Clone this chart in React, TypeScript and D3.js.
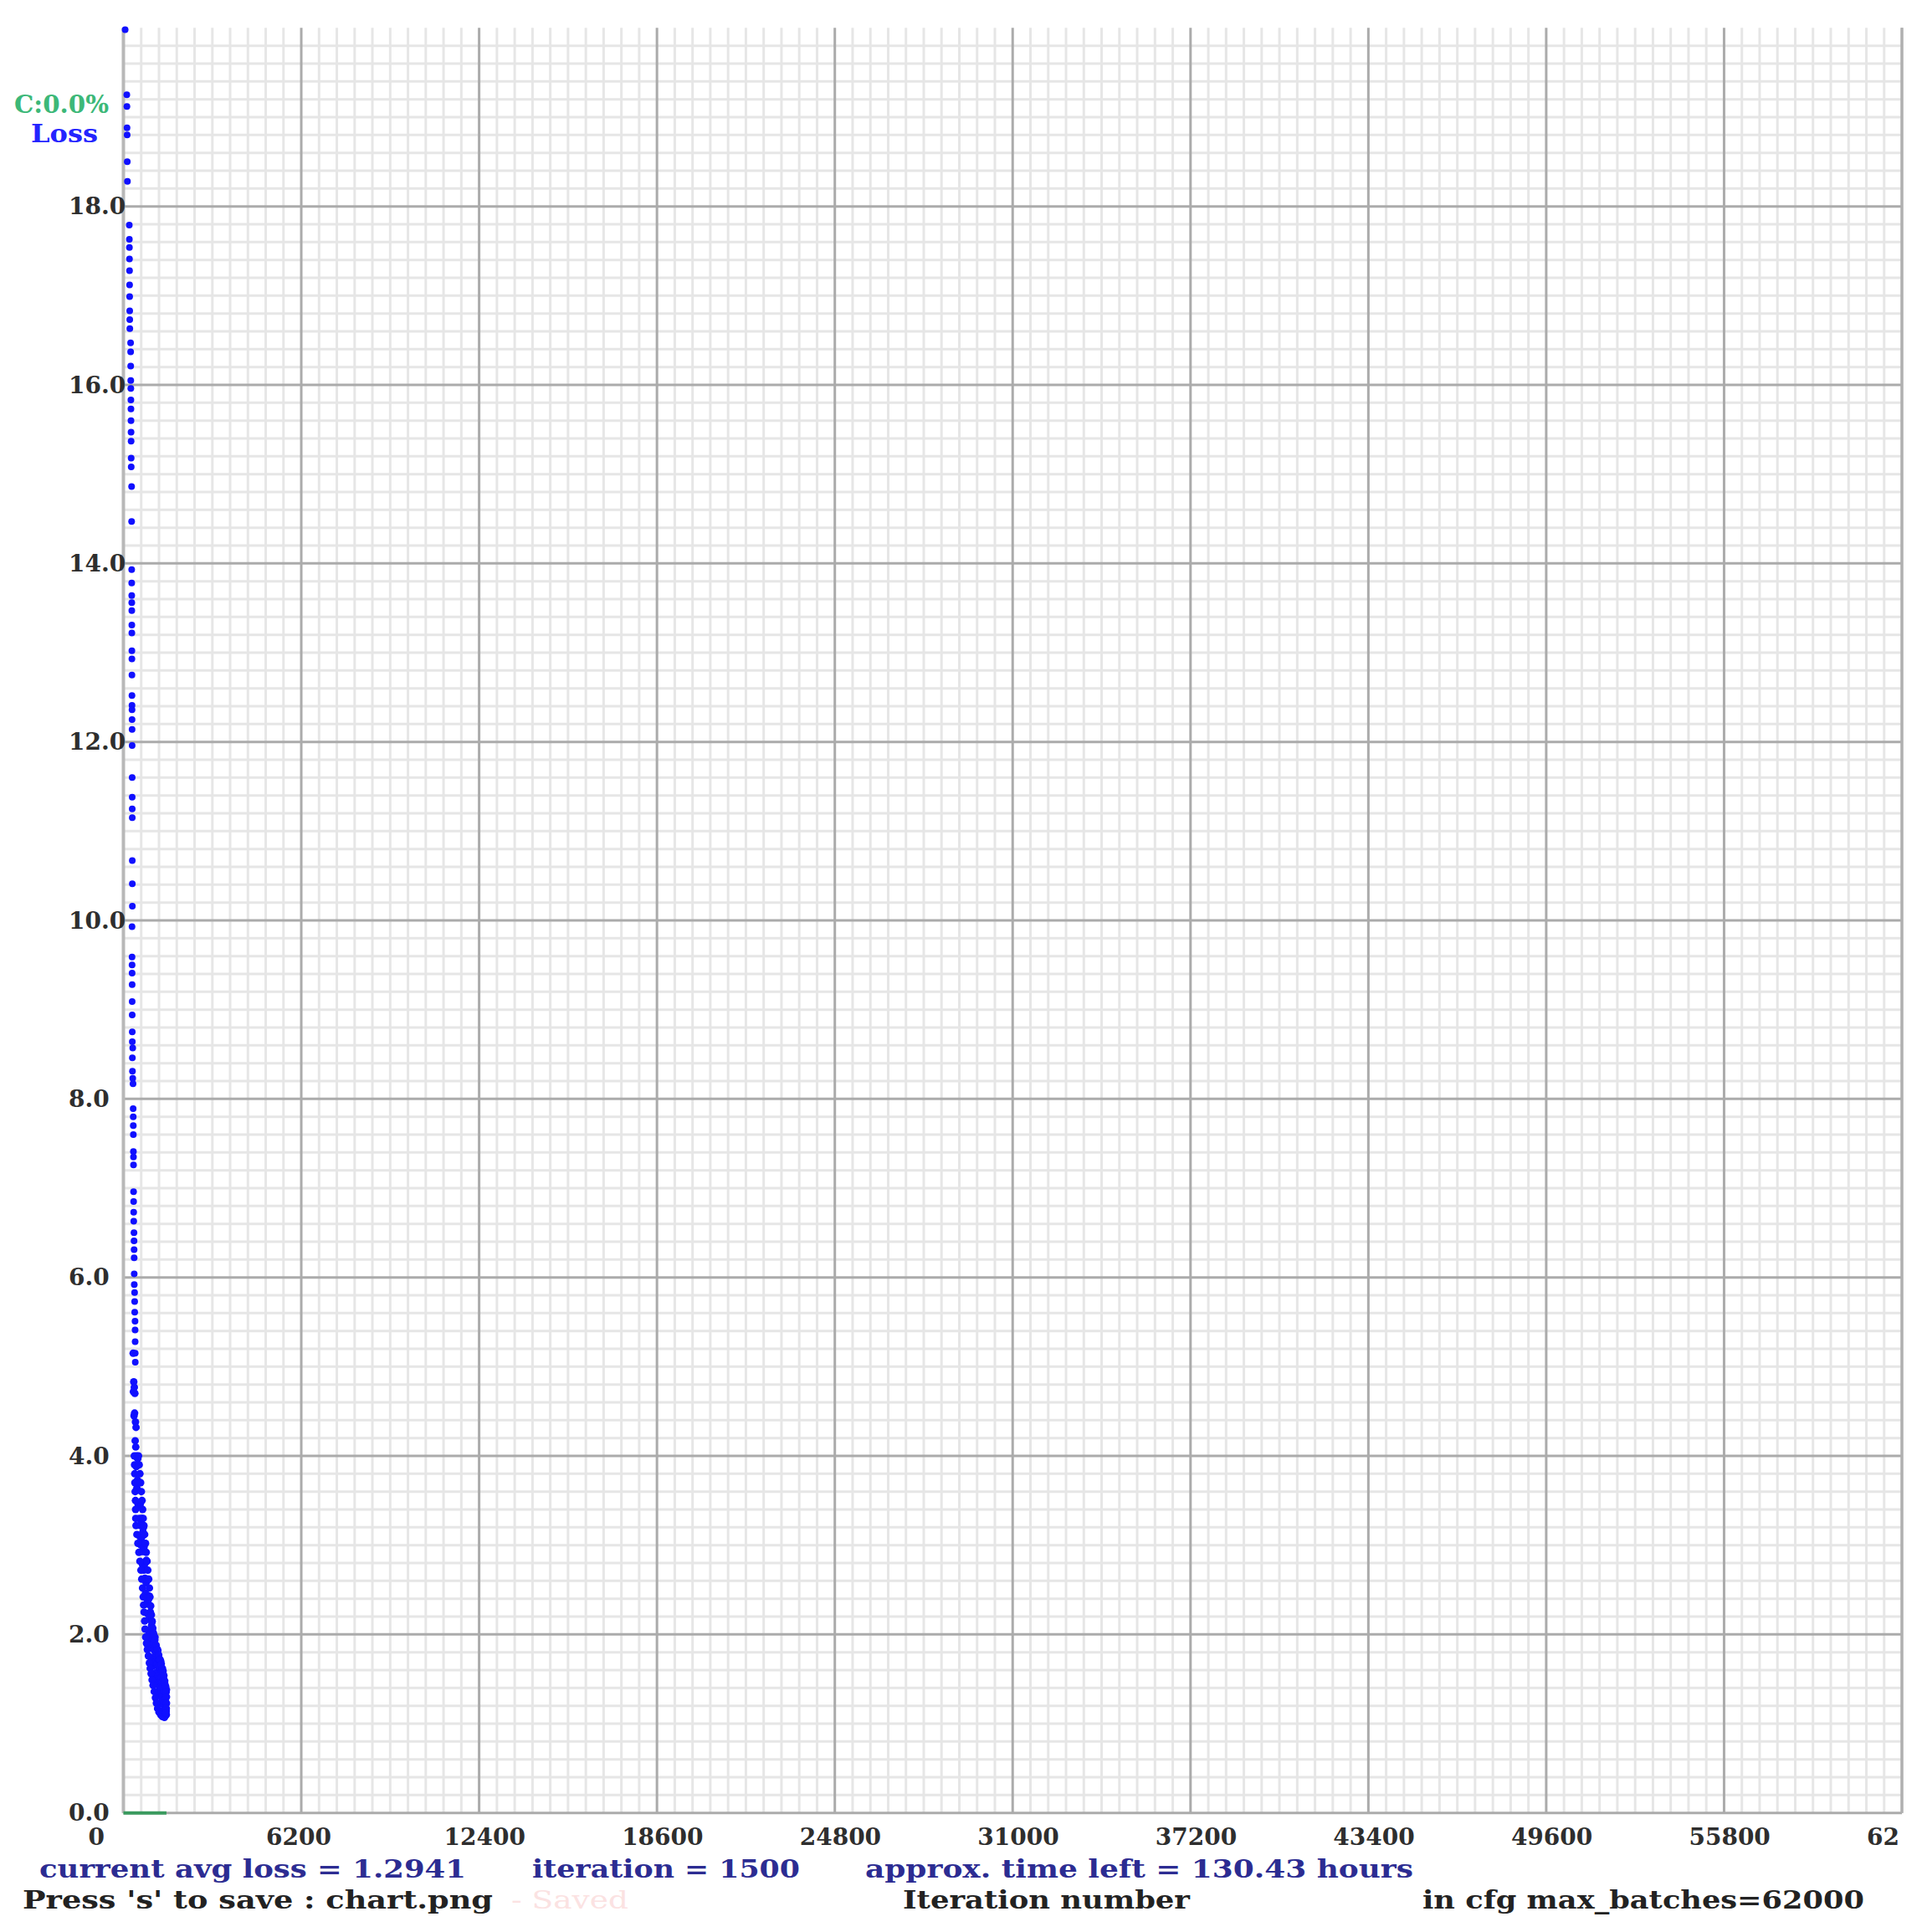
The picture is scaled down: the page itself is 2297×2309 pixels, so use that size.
import React from "react";
import * as d3 from "d3";

const W = 2297;
const H = 2309;

// Axis ticks
const xTickValues = [0, 6200, 12400, 18600, 24800, 31000, 37200, 43400, 49600, 55800, 62000];
const xTickLabels = ["0", "6200", "12400", "18600", "24800", "31000", "37200", "43400", "49600", "55800", "62"];
const yTickValues = [0, 2, 4, 6, 8, 10, 12, 14, 16, 18];
const yTickLabels = ["0.0", "2.0", "4.0", "6.0", "8.0", "10.0", "12.0", "14.0", "16.0", "18.0"];

// Loss points, early (sparse) part: iteration, loss
const sparseIterations = [
  60, 118, 122, 126, 130, 134, 140,
  205, 207, 209, 211, 213, 215, 217, 219, 221, 223,
  250, 252, 254, 256, 258, 260, 262, 264, 266, 268, 270, 272,
  285, 286, 288, 289, 290, 291, 292, 293, 294, 295, 296, 297, 298, 299, 300, 301, 302, 304, 305, 306, 307, 308, 309, 310, 311,
  300, 301, 302, 303, 304, 305, 306, 308, 310, 325, 312, 315, 325, 335,
  340, 342, 344, 346, 348, 350, 352, 354, 356, 358, 360, 368, 370, 372, 374, 376, 378, 390, 392, 394, 405, 407, 409, 411, 413,
];
const sparseLoss = [
  19.98, 19.25, 19.12, 18.88, 18.8, 18.5, 18.28,
  17.79, 17.63, 17.54, 17.41, 17.28, 17.12, 16.99, 16.83, 16.73, 16.63,
  16.47, 16.37, 16.21, 16.05, 15.96, 15.83, 15.73, 15.6, 15.47, 15.37, 15.18, 15.08,
  14.86, 14.47, 13.93, 13.78, 13.64, 13.56, 13.47, 13.31, 13.22, 13.02, 12.93, 12.75, 12.52, 12.41, 12.36, 12.25, 12.14, 11.96, 11.6, 11.38, 11.25, 11.15, 10.67, 10.41, 10.16,
  9.93, 9.59, 9.5, 9.41, 9.28, 9.09, 8.94, 8.75, 8.64, 8.57, 8.46, 8.31, 8.23, 8.17,
  7.89, 7.8, 7.7, 7.6, 7.41, 7.35, 7.26, 6.96, 6.85, 6.73, 6.63, 6.5, 6.41, 6.31, 6.22, 6.04, 5.92, 5.83, 5.73, 5.61, 5.51, 5.41, 5.28, 5.15, 5.05,
];

// Loss points, later (dense) part
const denseIterations = [
  340, 350, 360, 370, 380, 390, 400, 410, 420, 430, 440, 450, 460, 470, 480, 490, 500, 510, 520, 530,
  540, 550, 560, 570, 580, 590, 600, 610, 620, 630, 640, 650, 660, 670, 680, 690, 700, 710, 720, 730,
  740, 750, 760, 770, 780, 790, 800, 810, 820, 830, 840, 850, 860, 870, 880, 890, 900, 910, 920, 930,
  940, 950, 960, 970, 980, 990, 1000, 1010, 1020, 1030, 1040, 1050, 1060, 1070, 1080, 1090, 1100, 1110, 1120, 1130,
  1140, 1150, 1160, 1170, 1180, 1190, 1200, 1210, 1220, 1230, 1240, 1250, 1260, 1270, 1280, 1290, 1300, 1310, 1320, 1330,
  1340, 1350, 1360, 1370, 1380, 1390, 1400, 1410, 1420, 1430, 1440, 1450, 1460, 1470, 1475, 1480, 1485, 1490, 1495, 1500,
];
const denseLoss = [
  5.15, 4.72, 4.83, 4.45, 4.77, 4.48, 4.7, 4.17, 4.38, 4.1, 4.32, 3.88, 4.0, 3.64, 3.98, 3.73, 3.97, 3.46, 3.7, 3.45,
  3.7, 3.3, 3.45, 3.1, 3.45, 3.22, 3.48, 3.0, 3.27, 3.03, 3.3, 2.93, 3.1, 2.78, 3.15, 2.93, 3.2, 2.72, 2.98, 2.75,
  3.02, 2.63, 2.8, 2.46, 2.82, 2.58, 2.83, 2.34, 2.6, 2.36, 2.62, 2.23, 2.38, 2.04, 2.4, 2.17, 2.43, 1.95, 2.22, 1.98,
  2.25, 1.88, 2.05, 1.73, 2.1, 1.88, 2.15, 1.68, 1.96, 1.74, 2.02, 1.65, 1.83, 1.52, 1.9, 1.69, 1.97, 1.51, 1.79, 1.57,
  1.86, 1.49, 1.67, 1.36, 1.74, 1.53, 1.82, 1.35, 1.64, 1.43, 1.72, 1.35, 1.54, 1.23, 1.62, 1.41, 1.7, 1.23, 1.52, 1.3,
  1.59, 1.22, 1.41, 1.14, 1.48, 1.26, 1.5, 1.13, 1.37, 1.16, 1.45, 1.12, 1.27, 1.09, 1.3, 1.35, 1.22, 1.14, 1.1, 1.38,
];

// Lowest losses of the dense band (its left edge)
const lowEdgeIterations = [
  380, 388, 395, 400, 410, 420, 425, 430, 440, 470, 505, 540, 575, 610, 640, 668, 690, 705, 720,
  740, 755, 775, 805, 835, 870, 905, 935, 965, 1000, 1035, 1075, 1115, 1150, 1192, 1240, 1300, 1360, 1430,
];
const lowEdgeLoss = [
  4.0, 3.9, 3.8, 3.7, 3.6, 3.5, 3.4, 3.3, 3.22, 3.12, 3.02, 2.92, 2.82, 2.72, 2.62, 2.52, 2.42, 2.33, 2.25,
  2.15, 2.06, 1.97, 1.9, 1.83, 1.76, 1.68, 1.62, 1.56, 1.49, 1.43, 1.36, 1.29, 1.23, 1.17, 1.13, 1.1, 1.08, 1.07,
];

// Highest losses of the dense band (its right edge)
const highEdgeIterations = [
  525, 550, 575, 600, 625, 650, 670, 690, 715, 740, 770, 795, 825, 850, 880, 906, 925, 950, 975,
  1000, 1025, 1050, 1095, 1140, 1185, 1230, 1275, 1320, 1360, 1383, 1410, 1440, 1470, 1490, 1500, 1500, 1495, 1480,
];
const highEdgeLoss = [
  4.0, 3.9, 3.8, 3.7, 3.6, 3.5, 3.4, 3.3, 3.22, 3.12, 3.02, 2.92, 2.82, 2.72, 2.62, 2.52, 2.42, 2.32, 2.22,
  2.14, 2.07, 2.0, 1.94, 1.88, 1.83, 1.77, 1.72, 1.67, 1.62, 1.59, 1.54, 1.48, 1.42, 1.36, 1.3, 1.23, 1.17, 1.12,
];

// mAP (green) line
const mapIterations = [0, 1500];
const mapValues = [0, 0];

const FONT = "'DejaVu Serif', 'Liberation Serif', serif";

export default function App() {
  const x = d3.scaleLinear().domain([0, 62000]).range([147.5, 2273]);
  const y = d3.scaleLinear().domain([0, 20]).range([2166.7, 33.3]);

  const minorX = d3.range(0, 62000 + 1, 620).filter((v) => v % 6200 !== 0);
  const minorY = d3.range(0, 101, 1).map((v) => v * 0.2).filter((_, i) => i % 10 !== 0);

  const sparse = sparseIterations.map((it, i) => ({ it, loss: sparseLoss[i] }));
  const dense = [
    ...denseIterations.map((it, i) => ({ it, loss: denseLoss[i] })),
    ...lowEdgeIterations.map((it, i) => ({ it, loss: lowEdgeLoss[i] })),
    ...highEdgeIterations.map((it, i) => ({ it, loss: highEdgeLoss[i] })),
  ];
  const mapLine = d3
    .line<number>()
    .x((_, i) => x(mapIterations[i]))
    .y((d) => y(d))(mapValues);

  const [x0, x1] = x.range();
  const [y0, y1] = y.range();

  return (
    <div style={{ position: "absolute", left: 0, top: 0 }}>
      <svg width={W} height={H} style={{ display: "block", background: "#fff" }}>
        <rect x={0} y={0} width={W} height={H} fill="#fff" />
        {/* minor grid */}
        {minorX.map((v) => (
          <line key={"mx" + v} x1={x(v)} x2={x(v)} y1={y1} y2={y0} stroke="#e6e6e6" strokeWidth={3} />
        ))}
        {minorY.map((v) => (
          <line key={"my" + v} x1={x0} x2={x1} y1={y(v)} y2={y(v)} stroke="#e6e6e6" strokeWidth={3} />
        ))}
        {/* major grid */}
        {xTickValues.map((v) => (
          <line key={"Mx" + v} x1={x(v)} x2={x(v)} y1={y1} y2={y0} stroke="#ababab" strokeWidth={3} />
        ))}
        {yTickValues.map((v) => (
          <line key={"My" + v} x1={x0} x2={x1} y1={y(v)} y2={y(v)} stroke="#ababab" strokeWidth={3} />
        ))}
        <line x1={x0} x2={x0} y1={y1} y2={y0} stroke="#b8b8b8" strokeWidth={4} />
        <line x1={x1} x2={x1} y1={y1} y2={y0} stroke="#b0b0b0" strokeWidth={3} />

        {/* mAP line */}
        <path d={mapLine || ""} stroke="#3a9a5e" strokeWidth={4} fill="none" />

        {/* loss points */}
        {sparse.map((d, i) => (
          <circle key={"s" + i} cx={x(d.it)} cy={y(d.loss)} r={4} fill="#1010ff" />
        ))}
        {dense.map((d, i) => (
          <circle key={"d" + i} cx={x(d.it)} cy={y(d.loss)} r={4.5} fill="#1010ff" />
        ))}

        {/* y tick labels */}
        {yTickValues.map((v, i) => (
          <text key={"yl" + v} x={82} y={y(v)} dy="0.34em" fontFamily={FONT} fontWeight="bold" fontSize={28} fill="#2e2e2e">
            {yTickLabels[i]}
          </text>
        ))}
        {/* x tick labels */}
        {xTickValues.map((v, i) => (
          <text key={"xl" + v} x={x(v) - 42} y={2205} fontFamily={FONT} fontWeight="bold" fontSize={28} fill="#2e2e2e">
            {xTickLabels[i]}
          </text>
        ))}

        {/* top-left legend */}
        <text x={17} y={125} dy="0.36em" fontFamily={FONT} fontWeight="bold" fontSize={29} fill="#3cb878" textLength={113} lengthAdjust="spacingAndGlyphs">
          C:0.0%
        </text>
        <text x={37} y={160} dy="0.36em" fontFamily={FONT} fontWeight="bold" fontSize={29} fill="#2424ff" textLength={80} lengthAdjust="spacingAndGlyphs">
          Loss
        </text>

        {/* bottom status lines */}
        <g fontFamily={FONT} fontWeight="bold" fontSize={29}>
          <text x={47} y={2244} fill="#2c2c92" textLength={510} lengthAdjust="spacingAndGlyphs">current avg loss = 1.2941</text>
          <text x={636} y={2244} fill="#2c2c92" textLength={320} lengthAdjust="spacingAndGlyphs">iteration = 1500</text>
          <text x={1034} y={2244} fill="#2c2c92" textLength={655} lengthAdjust="spacingAndGlyphs">approx. time left = 130.43 hours</text>
          <text x={27} y={2281} fill="#222" textLength={562} lengthAdjust="spacingAndGlyphs">Press 's' to save : chart.png</text>
          <text x={611} y={2281} fill="#fbe2e2" fontWeight="normal" textLength={140} lengthAdjust="spacingAndGlyphs">- Saved</text>
          <text x={1079} y={2281} fill="#222" textLength={343} lengthAdjust="spacingAndGlyphs">Iteration number</text>
          <text x={1700} y={2281} fill="#222" textLength={528} lengthAdjust="spacingAndGlyphs">in cfg max_batches=62000</text>
        </g>
      </svg>
    </div>
  );
}
